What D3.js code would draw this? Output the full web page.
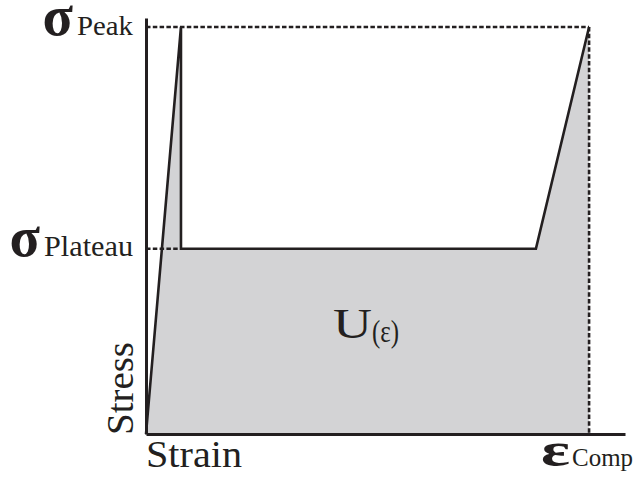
<!DOCTYPE html>
<html>
<head>
<meta charset="utf-8">
<script src="https://cdn.jsdelivr.net/npm/d3@7"></script>
<style>
  html, body { margin: 0; padding: 0; background: #fff; }
  svg { display: block; }
  text { font-family: "Liberation Serif", "DejaVu Serif", serif; fill: #231f20; }
</style>
</head>
<body>
<svg id="chart" width="636" height="477"></svg>
<script>
// Idealised stress–strain curve of a cellular material under compression
const strainPts = [0, 0.073, 0.073, 0.814, 0.925];
const stressPts = [0, 1.0, 0.455, 0.455, 1.0];
const strainMax = 1.0;
const stressMax = 1.022;
const peakStress = 1.0;
const plateauStress = 0.455;
const compStrain = 0.925;

const ink = "#231f20";
const fillGrey = "#d3d3d5";

const svg = d3.select("#chart");
const x = d3.scaleLinear().domain([0, strainMax]).range([146, 625]);
const y = d3.scaleLinear().domain([0, stressMax]).range([434, 18]);

const pts = strainPts.map((s, i) => [s, stressPts[i]]);

// energy absorbed under the curve
const area = d3.area().x(d => x(d[0])).y0(y(0)).y1(d => y(d[1]));
svg.append("path")
  .datum(pts)
  .attr("d", area)
  .attr("fill", fillGrey);

// reference lines for peak, plateau and compaction strain
const dash = "4.5,2.3";
const dashW = 2.6;
svg.append("line")
  .attr("x1", x(0)).attr("x2", x(compStrain))
  .attr("y1", y(peakStress)).attr("y2", y(peakStress))
  .attr("stroke", ink).attr("stroke-width", dashW).attr("stroke-dasharray", dash);
svg.append("line")
  .attr("x1", x(0)).attr("x2", x(strainPts[1]))
  .attr("y1", y(plateauStress)).attr("y2", y(plateauStress))
  .attr("stroke", ink).attr("stroke-width", dashW).attr("stroke-dasharray", dash);
svg.append("line")
  .attr("x1", x(compStrain)).attr("x2", x(compStrain))
  .attr("y1", y(peakStress)).attr("y2", y(0))
  .attr("stroke", ink).attr("stroke-width", dashW).attr("stroke-dasharray", dash);

// curve
const line = d3.line().x(d => x(d[0])).y(d => y(d[1]));
svg.append("path")
  .datum(pts)
  .attr("d", line)
  .attr("fill", "none")
  .attr("stroke", ink)
  .attr("stroke-width", 2.6)
  .attr("stroke-linejoin", "miter");

// axes without ticks
const xAxis = d3.axisBottom(x).tickValues([]).tickSizeOuter(0);
const yAxis = d3.axisLeft(y).tickValues([]).tickSizeOuter(0);
svg.append("g").attr("transform", `translate(0,${y(0)})`).call(xAxis)
  .select(".domain").attr("stroke", ink).attr("stroke-width", 3);
svg.append("g").attr("transform", `translate(${x(0)},0)`).call(yAxis)
  .select(".domain").attr("stroke", ink).attr("stroke-width", 3);

// axis titles
svg.append("text")
  .attr("x", 146).attr("y", 467)
  .attr("font-size", 37)
  .attr("textLength", 96).attr("lengthAdjust", "spacingAndGlyphs")
  .text("Strain");
svg.append("text")
  .attr("transform", "translate(133,435) rotate(-90)")
  .attr("font-size", 37)
  .attr("textLength", 93).attr("lengthAdjust", "spacingAndGlyphs")
  .text("Stress");

// stress level labels
function sigmaLabel(yPos, name, xEnd, subSize, subLen) {
  const t = svg.append("text").attr("y", yPos);
  t.append("tspan").attr("font-size", 56).attr("font-weight", "bold").text("σ");
  t.append("tspan").attr("font-size", subSize).attr("dx", 4)
    .attr("textLength", subLen).attr("lengthAdjust", "spacingAndGlyphs").text(name);
  t.attr("text-anchor", "end").attr("x", xEnd);
}
sigmaLabel(y(peakStress) + 8, "Peak", 133, 27, 56);
sigmaLabel(y(plateauStress) + 7, "Plateau", 133, 29, 89);

// compaction strain label
const ct = svg.append("text").attr("x", x(compStrain) - 48).attr("y", 466);
ct.append("tspan").attr("font-size", 48).attr("font-weight", "bold")
  .attr("textLength", 29).attr("lengthAdjust", "spacingAndGlyphs").text("ε");
ct.append("tspan").attr("font-size", 26).attr("dx", 2)
  .attr("textLength", 61).attr("lengthAdjust", "spacingAndGlyphs").text("Comp");

// absorbed energy label
const ut = svg.append("text").attr("x", 333).attr("y", 338);
ut.append("tspan").attr("font-size", 42).attr("textLength", 39)
  .attr("lengthAdjust", "spacingAndGlyphs").text("U");
ut.append("tspan").attr("font-size", 32).attr("dy", 4)
  .attr("textLength", 27).attr("lengthAdjust", "spacingAndGlyphs").text("(ε)");
</script>
</body>
</html>
